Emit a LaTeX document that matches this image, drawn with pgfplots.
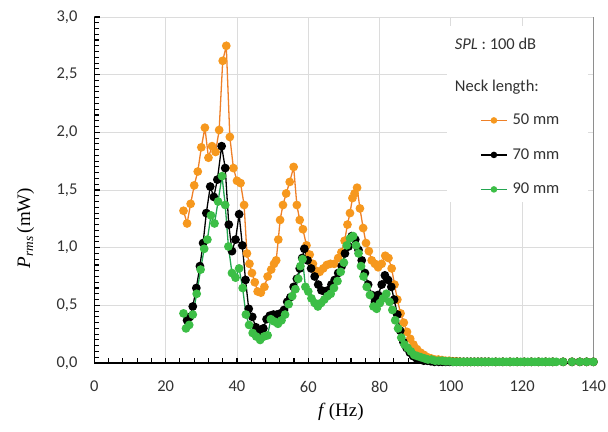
\documentclass[border=0pt]{standalone}
\usepackage{fontspec}
\setmainfont{Carlito}
\newfontfamily\timesfont{Liberation Serif}
\usepackage{pgfplots}
\pgfplotsset{compat=1.18}
\definecolor{orA}{RGB}{238,128,40}
\definecolor{orM}{RGB}{246,152,30}
\definecolor{grA}{RGB}{35,165,80}
\definecolor{grM}{RGB}{60,190,70}
\definecolor{gridc}{RGB}{220,220,220}
\definecolor{txt}{RGB}{50,50,50}
\begin{document}
\begin{tikzpicture}
\begin{axis}[
  scale only axis, width=499bp, height=346bp,
  xmin=0, xmax=140, ymin=0, ymax=3,
  xtick={0,20,...,140}, ytick={0,0.5,...,3},
  axis x line*=bottom, axis y line*=left,
  axis line style={black, line width=1.3bp, -},
  xmajorgrids, ymajorgrids, major grid style={gridc, line width=0.8bp},
  tick align=center,
  major tick length=11bp, minor tick length=6bp,
  every tick/.append style={draw=none},
  /pgf/number format/assume math mode=true,
  yticklabel style={/pgf/number format/fixed, /pgf/number format/fixed zerofill, /pgf/number format/precision=1, /pgf/number format/use comma},
  ticklabel style={font=\fontsize{16.5bp}{18bp}\selectfont, text=txt},
  xticklabel style={yshift=-9bp},
  yticklabel style={xshift=-8bp},
  every axis x label/.style={at={(axis description cs:0.494,-0.142)}, anchor=center},
  every axis y label/.style={at={(axis description cs:-0.138,0.39)}, anchor=center, rotate=90},
  xlabel={\fontsize{19bp}{21bp}\timesfont\textit{f}\,(Hz)},
  ylabel={\fontsize{19bp}{21bp}\timesfont\textit{P}\textsubscript{\textit{rms}}\,(mW)},
  legend style={at={(axis cs:108.2,2.17)}, anchor=north west, draw=none, fill=none,
    font=\fontsize{16.5bp}{18bp}\selectfont, text=txt, row sep=19.5bp, column sep=5bp, inner sep=0pt,
    nodes={inner sep=0pt, text height=12bp, text depth=3bp}},
  legend cell align=left,
  legend image code/.code={\draw[#1, mark repeat=2, mark phase=2] plot coordinates {(0bp,0bp) (13bp,0bp) (26bp,0bp)};},
  legend image post style={mark size=2.6bp},
]
\fill[white] (axis cs:99,1.40) rectangle (axis cs:138.5,2.92);
\node[anchor=base west, font=\fontsize{16.5bp}{18bp}\selectfont, text=txt, inner sep=0pt] at (axis cs:101.1,2.715) {\textit{SPL} : 100 dB};
\node[anchor=base west, font=\fontsize{16.5bp}{18bp}\selectfont, text=txt, inner sep=0pt] at (axis cs:101.1,2.353) {Neck length:};
\pgfplotsinvokeforeach{0,20,...,140}{\draw[black, line width=1.2bp] (axis cs:#1,0) ++(0,-5.5bp) -- ++(0,11bp);}
\pgfplotsinvokeforeach{4,8,...,136}{\draw[black, line width=1.1bp] (axis cs:#1,0) -- ++(0,5bp);}
\pgfplotsinvokeforeach{0,0.5,...,3}{\draw[black, line width=1.2bp] (axis cs:0,#1) ++(-5.5bp,0) -- ++(11bp,0);}
\pgfplotsinvokeforeach{0.05,0.1,...,2.96}{\draw[black, line width=1.1bp] (axis cs:0,#1) -- ++(5bp,0);}

\addplot[color=orA, line width=1.3bp, mark=*, mark size=3.7bp, mark options={fill=orM, draw=orM, solid}] coordinates {
(25,1.32)(26,1.21)(27,1.38)(28,1.54)(29,1.66)(30,1.87)(31,2.04)(32,1.78)(33,1.88)(34,1.83)(35,2.02)(36,2.62)(37,2.75)(38,1.96)(39,1.69)(40,1.58)(41,1.56)(42,1.37)(42.8,0.95)(43.5,0.86)(44.2,0.78)(45,0.70)(45.8,0.62)(46.7,0.61)(47.7,0.66)(48.6,0.75)(49.6,0.81)(50.4,0.86)(51.0,0.89)(51.6,1.07)(52.1,1.24)(52.9,1.37)(53.8,1.47)(54.8,1.57)(55.9,1.70)(56.8,1.37)(57.6,1.24)(58.5,1.16)(59.5,1.02)(60.4,0.94)(61.3,0.86)(62.2,0.80)(63.2,0.79)(64.2,0.82)(65.2,0.85)(66.2,0.86)(67.3,0.86)(68.4,0.91)(69.3,0.96)(70.2,1.06)(71.0,1.20)(71.7,1.30)(72.4,1.43)(73.0,1.47)(73.7,1.52)(74.5,1.34)(75.4,1.17)(76.2,1.04)(77.0,0.97)(77.8,0.89)(78.7,0.86)(79.6,0.83)(80.6,0.86)(81.6,0.93)(82.5,0.91)(83.4,0.82)(84.2,0.68)(85.0,0.55)(85.9,0.43)(86.8,0.35)(87.7,0.27)(88.6,0.21)(89.5,0.16)(90.5,0.12)(91.5,0.09)(92.5,0.07)(93.5,0.05)(94.5,0.04)(95.5,0.03)(96.5,0.03)(97.5,0.025)(98.5,0.02)(99.5,0.02)(100.5,0.015)(101.5,0.015)(102.5,0.012)(103.5,0.01)(104.6,0.01)(105.6,0.01)(106.6,0.01)(107.6,0.01)(108.6,0.01)(109.6,0.01)(110.6,0.01)(112.6,0.01)(114.6,0.01)(116.6,0.01)(118.6,0.01)(120.6,0.01)(122.6,0.01)(124.6,0.01)(126.6,0.01)(128.6,0.01)(131.5,0.01)(134,0.01)(136.2,0.01)(138.1,0.01)(140,0.01)
};
\addlegendentry{50 mm}
\addplot[color=black, line width=1.3bp, mark=*, mark size=3.7bp, mark options={fill=black, draw=black, solid}] coordinates {
(26.0,0.37)(26.8,0.40)(27.6,0.49)(28.6,0.65)(29.6,0.84)(30.5,1.04)(31.4,1.30)(32.5,1.53)(33.5,1.44)(34.5,1.59)(35.7,1.88)(36.7,1.69)(37.7,1.20)(38.6,0.97)(39.6,1.07)(40.6,1.29)(41.5,1.02)(42.4,0.72)(43.3,0.47)(44.3,0.40)(45.3,0.31)(46.4,0.27)(47.4,0.30)(48.3,0.38)(49.2,0.41)(50.2,0.42)(51.2,0.42)(52.2,0.43)(53.2,0.46)(54.1,0.53)(55.0,0.57)(55.9,0.66)(56.8,0.73)(57.6,0.82)(58.3,0.91)(58.9,0.99)(59.8,0.89)(60.8,0.82)(61.8,0.75)(62.8,0.68)(63.7,0.63)(64.6,0.62)(65.5,0.63)(66.5,0.68)(67.4,0.72)(68.4,0.78)(69.4,0.84)(70.3,0.95)(71.3,1.01)(72.2,1.10)(73.2,1.07)(74.1,0.98)(75.0,0.89)(75.9,0.78)(76.8,0.68)(77.8,0.59)(78.7,0.53)(79.6,0.59)(80.6,0.68)(81.5,0.76)(82.4,0.72)(83.3,0.66)(84.1,0.55)(85.0,0.42)(85.8,0.28)(86.7,0.18)(87.6,0.13)(88.5,0.09)(89.4,0.06)(90.4,0.04)(91.4,0.03)(92.4,0.02)(93.4,0.02)(94.4,0.015)(95.4,0.01)(96.6,0.01)(97.6,0.01)(98.6,0.01)(99.6,0.01)(100.6,0.01)(101.6,0.01)(102.6,0.01)(103.6,0.01)(104.6,0.01)(105.6,0.01)(106.6,0.01)(107.6,0.01)(108.6,0.01)(109.6,0.01)(110.6,0.01)(112.6,0.01)(114.6,0.01)(116.6,0.01)(118.6,0.01)(120.6,0.01)(122.6,0.01)(124.6,0.01)(126.6,0.01)(128.6,0.01)(131.5,0.01)(134,0.01)(136.2,0.01)(138.1,0.01)(140,0.01)
};
\addlegendentry{70 mm}
\addplot[color=grA, line width=1.3bp, mark=*, mark size=3.7bp, mark options={fill=grM, draw=grM, solid}] coordinates {
(25,0.43)(25.7,0.30)(26.6,0.33)(27.6,0.42)(28.7,0.60)(29.8,0.81)(30.8,0.99)(31.7,1.07)(32.7,1.28)(33.7,1.21)(34.7,1.40)(35.8,1.62)(36.7,1.37)(37.6,1.01)(38.6,0.78)(39.6,0.74)(40.6,0.82)(41.6,0.65)(42.5,0.42)(43.4,0.33)(44.4,0.26)(45.4,0.23)(46.5,0.20)(47.6,0.23)(48.6,0.24)(49.5,0.38)(50.5,0.36)(51.5,0.34)(52.5,0.37)(53.5,0.42)(54.5,0.51)(55.5,0.58)(56.4,0.64)(57.2,0.73)(57.8,0.84)(58.4,0.90)(59.2,0.66)(60.0,0.62)(60.9,0.56)(61.8,0.52)(62.7,0.49)(63.6,0.52)(64.5,0.55)(65.4,0.58)(66.3,0.60)(67.2,0.65)(68.2,0.71)(69.1,0.79)(70.0,0.87)(70.8,1.02)(71.7,1.08)(72.6,1.10)(73.4,1.02)(74.1,0.95)(74.8,0.84)(75.5,0.75)(76.4,0.66)(77.3,0.59)(78.3,0.49)(79.2,0.47)(80.1,0.52)(81.0,0.56)(81.9,0.60)(82.8,0.53)(83.6,0.46)(84.4,0.37)(85.2,0.30)(86.1,0.22)(87.0,0.16)(87.9,0.13)(88.8,0.10)(89.7,0.07)(90.6,0.06)(91.6,0.05)(92.6,0.04)(93.6,0.03)(94.6,0.03)(95.6,0.02)(96.6,0.02)(97.6,0.02)(98.6,0.015)(99.6,0.015)(100.6,0.01)(101.6,0.01)(102.6,0.01)(103.6,0.01)(104.6,0.01)(105.6,0.01)(106.6,0.01)(107.6,0.01)(108.6,0.01)(109.6,0.01)(110.6,0.01)(111.6,0.01)(112.6,0.01)(113.6,0.01)(114.6,0.01)(115.6,0.01)(116.6,0.01)(117.6,0.01)(118.6,0.01)(119.6,0.01)(120.6,0.01)(121.6,0.01)(122.6,0.01)(123.6,0.01)(124.6,0.01)(125.6,0.01)(126.6,0.01)(127.6,0.01)(128.6,0.01)(129.6,0.01)(131.5,0.01)(134,0.01)(136.2,0.01)(138.1,0.01)(140,0.01)
};
\addlegendentry{90 mm}
\draw[black, line width=1.3bp] (rel axis cs:1,0) -- (rel axis cs:1,1);
\end{axis}
\pgfresetboundingbox
\path[use as bounding box] (-94.4bp,-69bp) rectangle (513.6bp,363bp);
\end{tikzpicture}
\end{document}
